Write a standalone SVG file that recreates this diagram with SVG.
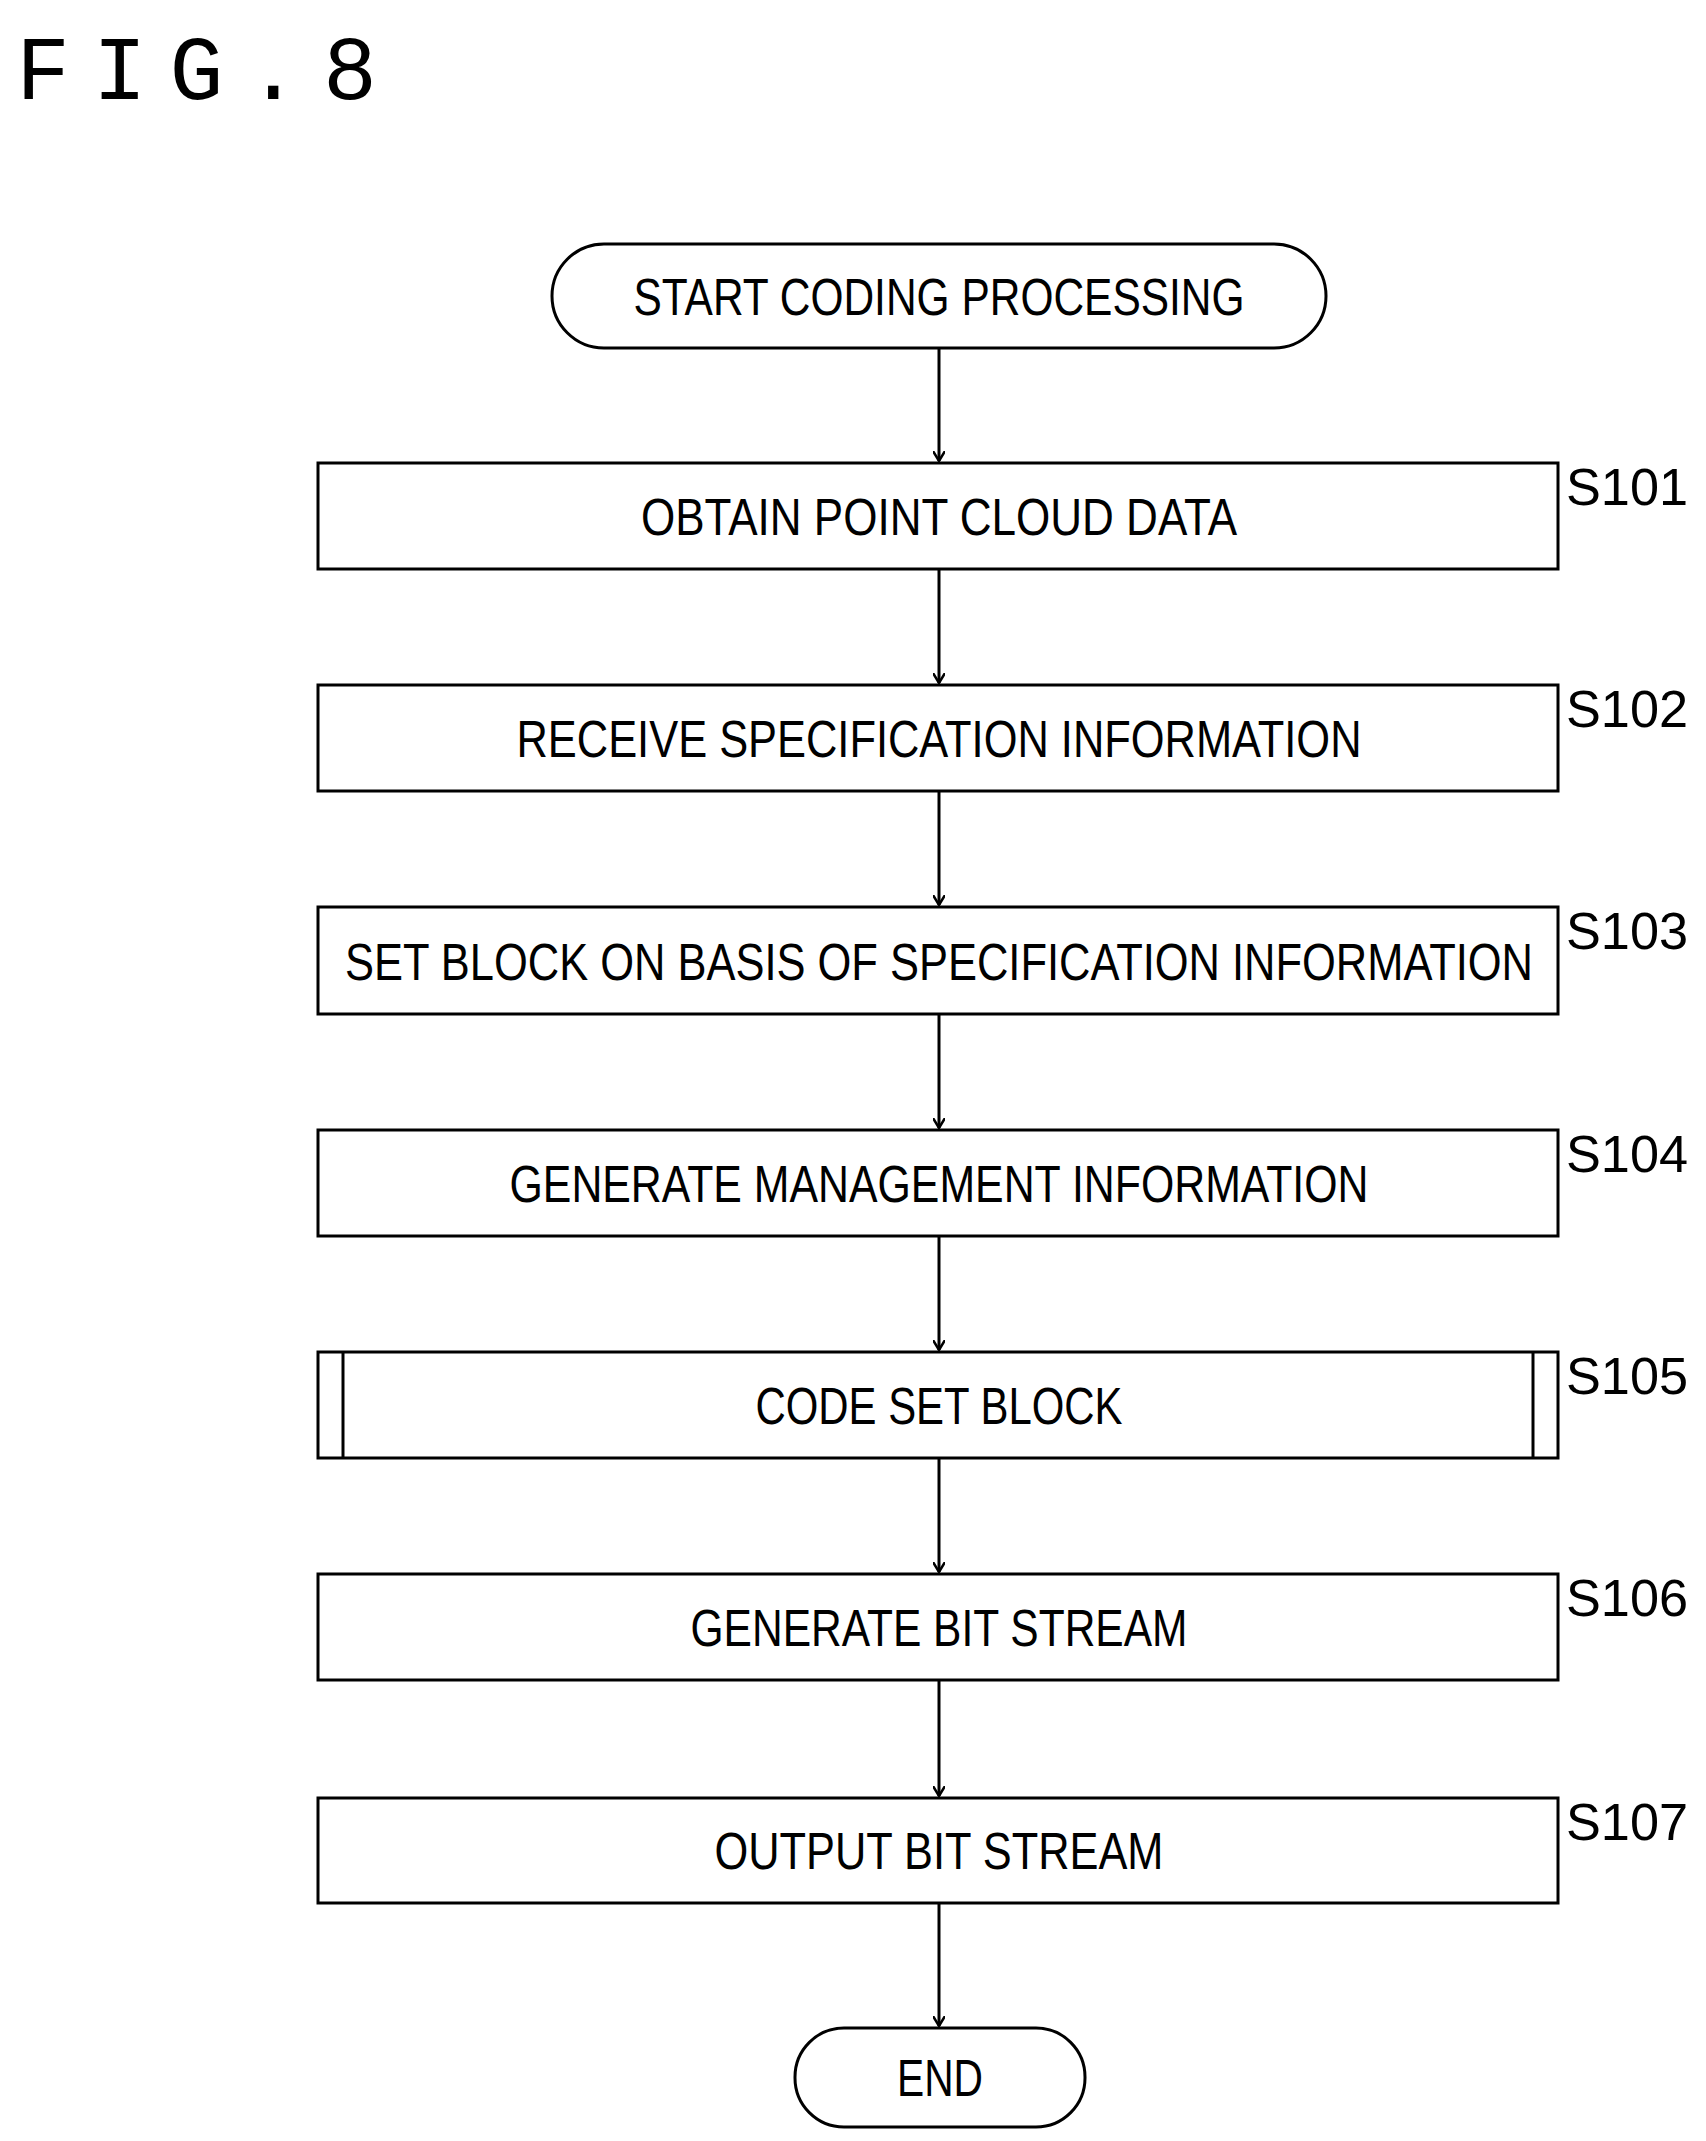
<svg xmlns="http://www.w3.org/2000/svg" width="1706" height="2141" viewBox="0 0 1706 2141">
<style>
.s{fill:none;stroke:#000;stroke-width:3}
.t{font-family:"Liberation Sans",Arial,sans-serif;font-size:52px;text-anchor:middle}
.l{font-family:"Liberation Sans",Arial,sans-serif;font-size:52px}
</style>
<defs><marker id="a" markerWidth="12" markerHeight="12" refX="10" refY="6" orient="auto" markerUnits="userSpaceOnUse"><path d="M0,0 L10,6 L0,12" fill="none" stroke="#000" stroke-width="2.5"/></marker></defs>
<rect width="1706" height="2141" fill="#fff"/>
<text x="16" y="99" font-family="Liberation Mono,monospace" font-size="90" textLength="361" lengthAdjust="spacing">FIG.8</text>
<g id="start"><rect class="s" x="552" y="244" width="774" height="104" rx="52"/><text class="t" x="939" y="315" textLength="611" lengthAdjust="spacingAndGlyphs">START CODING PROCESSING</text></g>
<g id="s101"><rect class="s" x="318" y="463" width="1240" height="106"/><text class="t" x="939" y="535" textLength="596" lengthAdjust="spacingAndGlyphs">OBTAIN POINT CLOUD DATA</text><text class="l" x="1566" y="505" textLength="122" lengthAdjust="spacingAndGlyphs">S101</text></g>
<g id="s102"><rect class="s" x="318" y="685" width="1240" height="106"/><text class="t" x="939" y="757" textLength="845" lengthAdjust="spacingAndGlyphs">RECEIVE SPECIFICATION INFORMATION</text><text class="l" x="1566" y="727" textLength="122" lengthAdjust="spacingAndGlyphs">S102</text></g>
<g id="s103"><rect class="s" x="318" y="907" width="1240" height="107"/><text class="t" x="939" y="980" textLength="1188" lengthAdjust="spacingAndGlyphs">SET BLOCK ON BASIS OF SPECIFICATION INFORMATION</text><text class="l" x="1566" y="949" textLength="122" lengthAdjust="spacingAndGlyphs">S103</text></g>
<g id="s104"><rect class="s" x="318" y="1130" width="1240" height="106"/><text class="t" x="939" y="1202" textLength="859" lengthAdjust="spacingAndGlyphs">GENERATE MANAGEMENT INFORMATION</text><text class="l" x="1566" y="1172" textLength="122" lengthAdjust="spacingAndGlyphs">S104</text></g>
<g id="s105"><rect class="s" x="318" y="1352" width="1240" height="106"/><line class="s" x1="343" y1="1352" x2="343" y2="1458"/><line class="s" x1="1533" y1="1352" x2="1533" y2="1458"/><text class="t" x="939" y="1424" textLength="367" lengthAdjust="spacingAndGlyphs">CODE SET BLOCK</text><text class="l" x="1566" y="1394" textLength="122" lengthAdjust="spacingAndGlyphs">S105</text></g>
<g id="s106"><rect class="s" x="318" y="1574" width="1240" height="106"/><text class="t" x="939" y="1646" textLength="497" lengthAdjust="spacingAndGlyphs">GENERATE BIT STREAM</text><text class="l" x="1566" y="1616" textLength="122" lengthAdjust="spacingAndGlyphs">S106</text></g>
<g id="s107"><rect class="s" x="318" y="1798" width="1240" height="105"/><text class="t" x="939" y="1869" textLength="449" lengthAdjust="spacingAndGlyphs">OUTPUT BIT STREAM</text><text class="l" x="1566" y="1840" textLength="122" lengthAdjust="spacingAndGlyphs">S107</text></g>
<g id="end"><rect class="s" x="795" y="2028" width="290" height="99" rx="49"/><text class="t" x="940" y="2096" textLength="86" lengthAdjust="spacingAndGlyphs">END</text></g>
<g id="connectors" class="s" marker-end="url(#a)">
<line x1="939" y1="348" x2="939" y2="461"/>
<line x1="939" y1="569" x2="939" y2="683"/>
<line x1="939" y1="791" x2="939" y2="905"/>
<line x1="939" y1="1014" x2="939" y2="1128"/>
<line x1="939" y1="1236" x2="939" y2="1350"/>
<line x1="939" y1="1458" x2="939" y2="1572"/>
<line x1="939" y1="1680" x2="939" y2="1796"/>
<line x1="939" y1="1903" x2="939" y2="2026"/>
</g>
</svg>
